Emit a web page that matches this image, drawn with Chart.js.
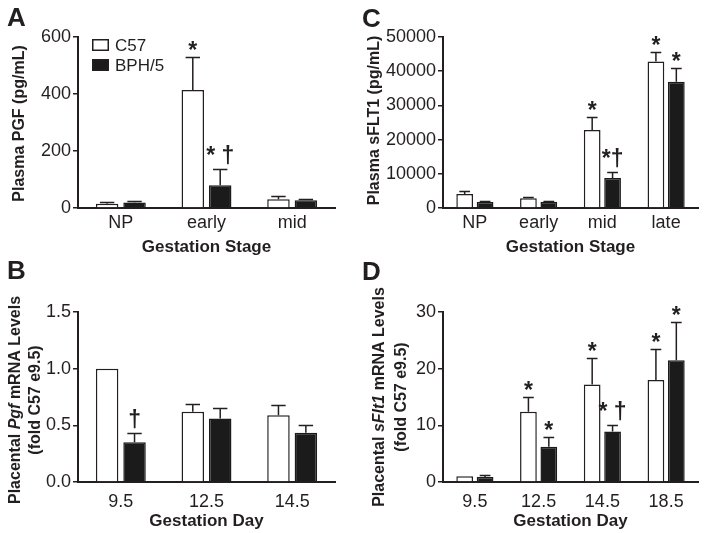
<!DOCTYPE html>
<html>
<head>
<meta charset="utf-8">
<script src="https://cdn.jsdelivr.net/npm/chart.js@4.4.1/dist/chart.umd.min.js"></script>
<style>
  body { margin: 0; background: #fff; }
  #fig { position: relative; width: 705px; height: 533px; }
  canvas { position: absolute; }
</style>
</head>
<body>
<div id="fig">
  <canvas id="panelA" width="352" height="258" style="left:0;top:0"></canvas>
  <canvas id="panelC" width="353" height="258" style="left:352px;top:0"></canvas>
  <canvas id="panelB" width="352" height="275" style="left:0;top:258px"></canvas>
  <canvas id="panelD" width="353" height="275" style="left:352px;top:258px"></canvas>
</div>
<script>
// ---- données ----
const seriesNames = ['C57', 'BPH/5'];

// A : PGF plasmatique
const stagesA = ['NP', 'early', 'mid'];
const c57A = [15, 414, 31];
const c57UpperA = [20, 530, 43];
const bphA = [19, 80, 27];
const bphUpperA = [23, 136, 31];
const notesC57A = ['', '*', ''];
const notesBphA = ['', '* †', ''];
const ticksA = [0, 200, 400, 600];
const tickLabelsA = ['0', '200', '400', '600'];

// C : sFLT1 plasmatique
const stagesC = ['NP', 'early', 'mid', 'late'];
const c57C = [4100, 2850, 22800, 42800];
const c57UpperC = [5100, 3300, 26500, 45700];
const bphC = [1750, 1800, 8800, 36900];
const bphUpperC = [2000, 2000, 10400, 41000];
const notesC57C = ['', '', '*', '*'];
const notesBphC = ['', '', '*†', '*'];
const ticksC = [0, 10000, 20000, 30000, 40000, 50000];
const tickLabelsC = ['0', '10000', '20000', '30000', '40000', '50000'];

// B : ARNm Pgf placentaire
const daysB = ['9.5', '12.5', '14.5'];
const c57B = [1.0, 0.62, 0.59];
const c57UpperB = [1.0, 0.69, 0.68];
const bphB = [0.35, 0.56, 0.435];
const bphUpperB = [0.43, 0.65, 0.50];
const notesC57B = ['', '', ''];
const notesBphB = ['†', '', ''];
const ticksB = [0, 0.5, 1.0, 1.5];
const tickLabelsB = ['0.0', '0.5', '1.0', '1.5'];

// D : ARNm sFlt1 placentaire
const daysD = ['9.5', '12.5', '14.5', '18.5'];
const c57D = [1.0, 12.4, 17.2, 18.0];
const c57UpperD = [1.0, 15.0, 21.9, 23.4];
const bphD = [0.9, 6.2, 8.9, 21.5];
const bphUpperD = [1.25, 8.0, 10.1, 28.2];
const notesC57D = ['', '*', '*', '*'];
const notesBphD = ['', '*', '* †', '*'];
const ticksD = [0, 10, 20, 30];
const tickLabelsD = ['0', '10', '20', '30'];

// ---- style ----
const INK = '#231f20';
const FONT = "'Liberation Sans', Arial, Helvetica, sans-serif";
Chart.defaults.font.family = FONT;
Chart.defaults.color = INK;
Chart.defaults.animation = false;

// barres d'erreur, étoiles, lettre du panneau, légende, titres Y
const extrasPlugin = {
    id: 'extras',
    afterDatasetsDraw(chart, args, opts) {
        const ctx = chart.ctx;
        const yScale = chart.scales.y;
        ctx.save();
        ctx.strokeStyle = INK;
        ctx.fillStyle = INK;
        ctx.lineWidth = 1.5;
        chart.data.datasets.forEach((ds, i) => {
            chart.getDatasetMeta(i).data.forEach((bar, j) => {
                const up = opts.upper[i][j];
                let top = bar.y;
                if (up > ds.data[j]) {
                    const yUp = Math.round(yScale.getPixelForValue(up)) + 0.5;
                    const half = bar.width * 0.32;
                    ctx.beginPath();
                    ctx.moveTo(bar.x, bar.y);
                    ctx.lineTo(bar.x, yUp);
                    ctx.moveTo(bar.x - half, yUp);
                    ctx.lineTo(bar.x + half, yUp);
                    ctx.stroke();
                    top = yUp;
                }
                const note = opts.notes[i][j];
                if (note) {
                    ctx.font = 'bold 23px ' + FONT;
                    ctx.textAlign = 'center';
                    ctx.textBaseline = 'alphabetic';
                    ctx.fillText(note, bar.x, top - (note.includes('†') ? 7 : 0));
                }
            });
        });
        ctx.restore();
    },
    afterDraw(chart, args, opts) {
        const ctx = chart.ctx;
        const area = chart.chartArea;
        ctx.save();
        ctx.fillStyle = INK;

        // lettre du panneau
        ctx.font = 'bold 26px ' + FONT;
        ctx.textAlign = 'left';
        ctx.textBaseline = 'alphabetic';
        ctx.fillText(opts.letter, opts.letterX, opts.letterY);

        // légende (panneau A seulement)
        if (opts.legend) {
            ctx.font = '17px ' + FONT;
            ctx.textBaseline = 'middle';
            chart.data.datasets.forEach((ds, i) => {
                const bx = area.left + 14;
                const cy = area.top + 8 + i * 20;
                ctx.fillStyle = ds.backgroundColor;
                ctx.fillRect(bx, cy - 6, 17, 12);
                ctx.strokeStyle = INK;
                ctx.lineWidth = 1.5;
                ctx.strokeRect(bx + 0.75, cy - 5.25, 15.5, 10.5);
                ctx.fillStyle = INK;
                ctx.fillText(ds.label, bx + 23, cy + 1);
            });
        }

        // titre Y (une ou deux lignes, parties en italique possibles)
        if (opts.yTitle) {
            const cy = (area.top + area.bottom) / 2 + opts.yTitle.dy;
            opts.yTitle.lines.forEach((segs, k) => {
                const x = opts.yTitle.xs[k];
                const fontOf = it => (it ? 'italic bold ' : 'bold ') + '16px ' + FONT;
                let total = 0;
                segs.forEach(s => { ctx.font = fontOf(s[1]); total += ctx.measureText(s[0]).width; });
                ctx.save();
                ctx.translate(x, cy);
                ctx.rotate(-Math.PI / 2);
                ctx.textAlign = 'left';
                ctx.textBaseline = 'middle';
                let pos = -total / 2;
                segs.forEach(s => {
                    ctx.font = fontOf(s[1]);
                    ctx.fillText(s[0], pos, 0);
                    pos += ctx.measureText(s[0]).width;
                });
                ctx.restore();
            });
        }
        ctx.restore();
    }
};

function makePanel(id, p) {
    new Chart(document.getElementById(id), {
        type: 'bar',
        data: {
            labels: p.labels,
            datasets: [
                {
                    label: seriesNames[0],
                    data: p.c57,
                    backgroundColor: '#ffffff',
                    borderColor: INK,
                    borderWidth: 1.5,
                    categoryPercentage: 0.64,
                    barPercentage: 0.82
                },
                {
                    label: seriesNames[1],
                    data: p.bph,
                    backgroundColor: '#1b1b1b',
                    borderColor: '#1b1b1b',
                    borderWidth: 1.5,
                    categoryPercentage: 0.64,
                    barPercentage: 0.82
                }
            ]
        },
        plugins: [extrasPlugin],
        options: {
            responsive: false,
            animation: false,
            layout: { padding: { top: p.padTop, right: p.padRight, left: 0, bottom: 0 } },
            plugins: {
                legend: { display: false },
                tooltip: { enabled: false },
                extras: {
                    upper: [p.c57Upper, p.bphUpper],
                    notes: [p.notesC57, p.notesBph],
                    letter: p.letter,
                    letterX: p.letterX,
                    letterY: p.letterY,
                    legend: p.legend || false,
                    yTitle: p.yTitle
                }
            },
            scales: {
                x: {
                    grid: { display: false },
                    border: { display: true, color: INK, width: 2 },
                    ticks: { font: { size: 18 }, color: INK, padding: p.xTickPad },
                    title: {
                        display: true,
                        text: p.xTitle,
                        font: { size: 17, weight: 'bold' },
                        color: INK,
                        padding: { top: 0, bottom: p.xTitlePad }
                    },
                    afterFit: s => { s.height = p.xHeight; }
                },
                y: {
                    min: p.ticks[0],
                    max: p.ticks[p.ticks.length - 1],
                    grid: {
                        display: true,
                        drawOnChartArea: false,
                        drawTicks: true,
                        tickLength: 5,
                        color: INK,
                        lineWidth: 1.5
                    },
                    border: { display: true, color: INK, width: 2 },
                    ticks: {
                        font: { size: 18 },
                        color: INK,
                        padding: 2,
                        callback: (v) => {
                            const k = p.ticks.indexOf(v);
                            return k >= 0 ? p.tickLabels[k] : '';
                        }
                    },
                    afterBuildTicks: s => { s.ticks = p.ticks.map(v => ({ value: v })); },
                    afterFit: s => { s.width = p.yWidth; }
                }
            }
        }
    });
}

makePanel('panelA', {
    labels: stagesA, c57: c57A, c57Upper: c57UpperA, bph: bphA, bphUpper: bphUpperA,
    notesC57: notesC57A, notesBph: notesBphA, ticks: ticksA, tickLabels: tickLabelsA,
    xTitle: 'Gestation Stage', xTickPad: -4, xTitlePad: 0,
    padTop: 37, padRight: 17, xHeight: 50, yWidth: 78,
    letter: 'A', letterX: 7, letterY: 26, legend: true,
    yTitle: { lines: [[['Plasma PGF (pg/mL)', false]]], xs: [20], dy: 1 }
});

makePanel('panelC', {
    labels: stagesC, c57: c57C, c57Upper: c57UpperC, bph: bphC, bphUpper: bphUpperC,
    notesC57: notesC57C, notesBph: notesBphC, ticks: ticksC, tickLabels: tickLabelsC,
    xTitle: 'Gestation Stage', xTickPad: -4, xTitlePad: 0,
    padTop: 37, padRight: 7, xHeight: 50, yWidth: 91,
    letter: 'C', letterX: 10, letterY: 27,
    yTitle: { lines: [[['Plasma sFLT1 (pg/mL)', false]]], xs: [23], dy: -2 }
});

makePanel('panelB', {
    labels: daysB, c57: c57B, c57Upper: c57UpperB, bph: bphB, bphUpper: bphUpperB,
    notesC57: notesC57B, notesBph: notesBphB, ticks: ticksB, tickLabels: tickLabelsB,
    xTitle: 'Gestation Day', xTickPad: 1, xTitlePad: 1,
    padTop: 54, padRight: 17, xHeight: 51, yWidth: 78,
    letter: 'B', letterX: 7, letterY: 21,
    yTitle: {
        lines: [[['Placental ', false], ['Pgf', true], [' mRNA Levels', false]],
                [['(fold C57 e9.5)', false]]],
        xs: [16, 36], dy: 3
    }
});

makePanel('panelD', {
    labels: daysD, c57: c57D, c57Upper: c57UpperD, bph: bphD, bphUpper: bphUpperD,
    notesC57: notesC57D, notesBph: notesBphD, ticks: ticksD, tickLabels: tickLabelsD,
    xTitle: 'Gestation Day', xTickPad: 1, xTitlePad: 1,
    padTop: 54, padRight: 7, xHeight: 51, yWidth: 91,
    letter: 'D', letterX: 10, letterY: 22,
    yTitle: {
        lines: [[['Placental ', false], ['sFlt1', true], [' mRNA Levels', false]],
                [['(fold C57 e9.5)', false]]],
        xs: [28, 50], dy: 0
    }
});
</script>
</body>
</html>
